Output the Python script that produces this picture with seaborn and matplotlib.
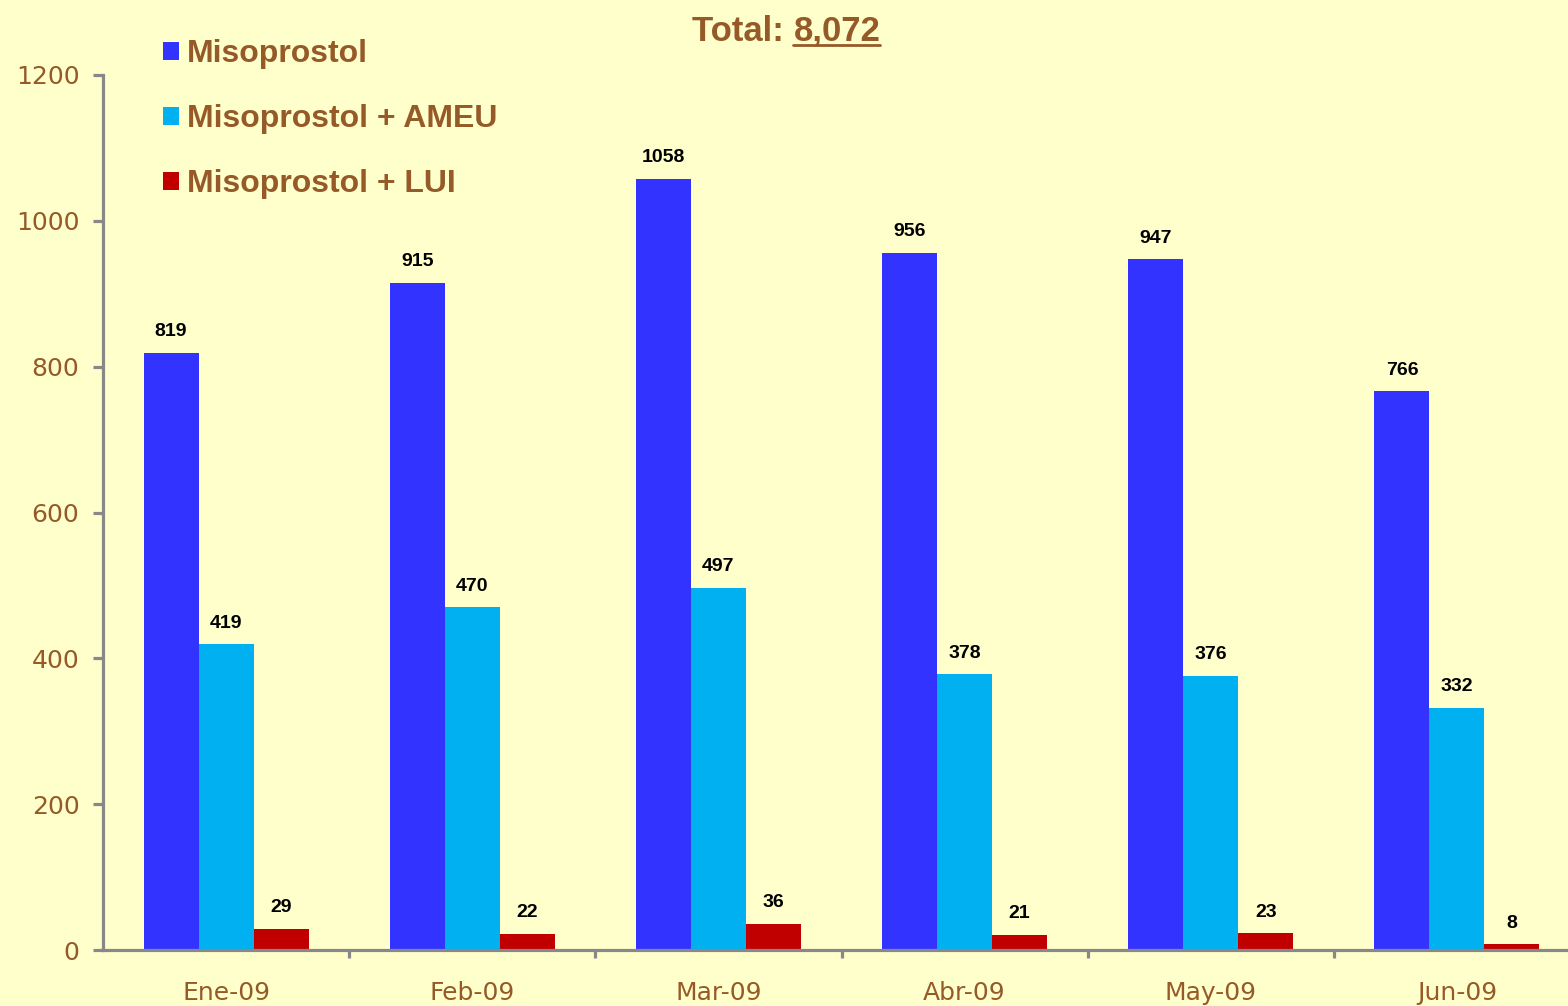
import matplotlib
matplotlib.use("Agg")
import matplotlib.pyplot as plt
from matplotlib.lines import Line2D
import pandas as pd
import seaborn as sns

months = ["Ene-09", "Feb-09", "Mar-09", "Abr-09", "May-09", "Jun-09"]
series_names = ["Misoprostol", "Misoprostol + AMEU", "Misoprostol + LUI"]
misoprostol = [819, 915, 1058, 956, 947, 766]
misoprostol_ameu = [419, 470, 497, 378, 376, 332]
misoprostol_lui = [29, 22, 36, 21, 23, 8]
total_label = "8,072"
yticks = [0, 200, 400, 600, 800, 1000, 1200]

colors = ["#3333FF", "#00B0F0", "#C00000"]
brown = "#955A28"
bg = "#FFFFCC"
axis_gray = "#888888"

rows = []
for name, vals in zip(series_names, [misoprostol, misoprostol_ameu, misoprostol_lui]):
    for m, v in zip(months, vals):
        rows.append({"mes": m, "serie": name, "valor": v})
data = pd.DataFrame(rows)

sns.set_theme(style="white")
plt.rcParams["font.family"] = ["DejaVu Sans"]

fig = plt.figure(figsize=(15.68, 10.06), dpi=100, facecolor=bg)
ax = fig.add_axes([103 / 1568, 56 / 1006, (1580 - 103) / 1568, 875 / 1006])
ax.set_facecolor(bg)

sns.barplot(data=data, x="mes", y="valor", hue="serie", order=months,
            hue_order=series_names, palette=colors, width=0.67,
            saturation=1, linewidth=0, ax=ax)

for cont in ax.containers:
    ax.bar_label(cont, padding=9, fontsize=14, fontweight="bold",
                 color="black", family="Liberation Sans")

ax.set_ylim(0, 1200)
ax.set_xlim(-0.5, len(months) - 0.5)
ax.set_yticks(yticks)
ax.set_xlabel("")
ax.set_ylabel("")

for s in ["top", "right"]:
    ax.spines[s].set_visible(False)
for s in ["left", "bottom"]:
    ax.spines[s].set_color(axis_gray)
    ax.spines[s].set_linewidth(2.3)

ax.tick_params(axis="y", direction="out", length=7, width=2.3, color=axis_gray,
               labelsize=18, labelcolor=brown, pad=10, left=True)
ax.tick_params(axis="x", which="major", length=0, labelsize=18,
               labelcolor=brown, pad=22, bottom=True)
ax.set_xticks([i + 0.5 for i in range(len(months) - 1)], minor=True)
ax.tick_params(axis="x", which="minor", direction="out", length=6, width=2.3,
               color=axis_gray, bottom=True)

handles, labels = ax.get_legend_handles_labels()
ax.legend(handles, labels, loc="upper left", bbox_to_anchor=(163 / 1568, 1 - 39 / 1006),
          bbox_transform=fig.transFigure, frameon=False, borderpad=0,
          borderaxespad=0, handlelength=0.5, handleheight=0.5, handletextpad=0.25,
          labelspacing=1.1,
          prop={"family": "Liberation Sans", "weight": "bold", "size": 23},
          labelcolor=brown)

# title with underlined total
ty = 1 - 41 / 1006
t1 = fig.text(692 / 1568, ty, "Total: ", fontsize=25, fontweight="bold",
              color=brown, family="Liberation Sans", va="baseline", ha="left")
fig.canvas.draw()
r = fig.canvas.get_renderer()
bb = t1.get_window_extent(r)
t2 = fig.text(bb.x1 / 1568, ty, total_label, fontsize=25, fontweight="bold",
              color=brown, family="Liberation Sans", va="baseline", ha="left")
bb2 = t2.get_window_extent(r)
uy = ty - 4 / 1006
fig.add_artist(Line2D([bb2.x0 / 1568, bb2.x1 / 1568], [uy, uy], color=brown,
                      linewidth=2, transform=fig.transFigure))

fig.savefig("out.png", dpi=100, facecolor=bg)
